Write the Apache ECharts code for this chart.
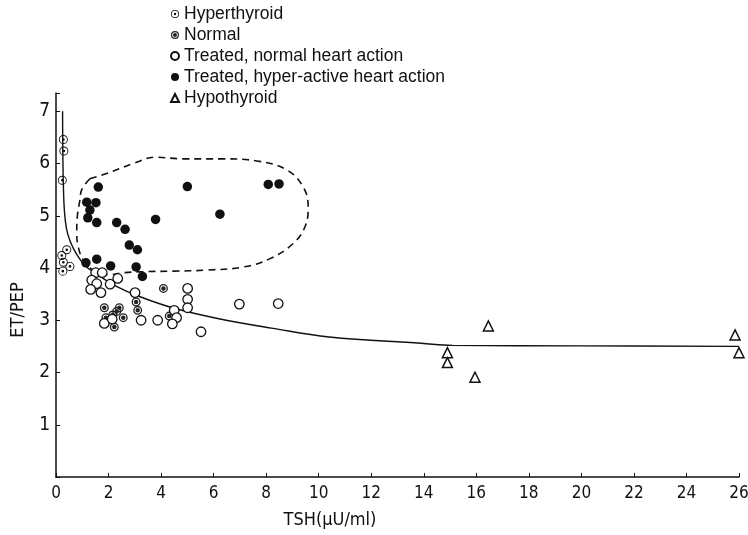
<!DOCTYPE html>
<html>
<head>
<meta charset="utf-8">
<script src="https://cdn.jsdelivr.net/npm/echarts@6/dist/echarts.min.js"></script>
<style>
  html, body { margin: 0; padding: 0; background: #fff; }
  #container { width: 748px; height: 535px; }
</style>
</head>
<body>
<div id="container"></div>
<script>
// 数据 (TSH, ET/PEP)
let seriesNames = ['Hyperthyroid', 'Normal', 'Treated, normal heart action', 'Treated, hyper-active heart action', 'Hypothyroid'];

let hyperData = [
    [0.28, 6.46], [0.3, 6.24], [0.24, 5.68],
    [0.41, 4.35], [0.22, 4.24], [0.28, 4.11], [0.53, 4.03], [0.26, 3.94]
];
let normalData = [
    [1.84, 3.24], [1.9, 3.05], [2.22, 2.87], [2.31, 3.17], [2.41, 3.24],
    [2.56, 3.05], [2.16, 3.1], [3.05, 3.35], [3.11, 3.19], [4.09, 3.61], [4.31, 3.08]
];
let treatedNormalData = [
    [1.51, 3.91], [1.76, 3.91], [1.36, 3.77], [1.55, 3.7], [2.06, 3.69], [2.35, 3.8],
    [1.32, 3.59], [1.71, 3.53], [3.01, 3.53], [5.01, 3.61], [5.01, 3.4], [5.01, 3.24],
    [4.5, 3.19], [4.59, 3.05], [4.43, 2.93], [3.24, 3.0], [3.87, 3.0], [5.52, 2.78],
    [1.84, 2.94], [2.14, 3.02], [6.98, 3.31], [8.46, 3.32]
];
let treatedHyperData = [
    [1.61, 5.55], [1.17, 5.26], [1.52, 5.25], [1.29, 5.11], [1.21, 4.96], [1.55, 4.87],
    [2.31, 4.87], [2.63, 4.74], [2.79, 4.44], [3.1, 4.35], [3.79, 4.93], [5.0, 5.56],
    [6.24, 5.03], [8.08, 5.6], [8.49, 5.61], [1.55, 4.17], [1.14, 4.1], [2.08, 4.04],
    [3.05, 4.02], [3.29, 3.84]
];
let hypoData = [
    [16.46, 2.89], [14.9, 2.38], [14.9, 2.19], [15.95, 1.91], [25.85, 2.72], [26.0, 2.38]
];
// 回归曲线
let curveData = [
    [0.25, 7.0], [0.26, 6.2], [0.28, 5.6], [0.32, 5.1], [0.4, 4.75], [0.55, 4.5],
    [0.8, 4.25], [1.1, 4.05], [1.5, 3.9], [2.3, 3.65], [3.2, 3.45], [4.5, 3.23],
    [6.2, 3.03], [8.2, 2.85], [10.4, 2.68], [13.9, 2.56], [15.1, 2.52], [20, 2.51], [26, 2.5]
];
// 虚线范围
let envelopeData = [
    [1.29, 5.71], [1.93, 5.81], [2.94, 6.0], [3.77, 6.12], [4.85, 6.09], [6.37, 6.09],
    [7.64, 6.05], [8.78, 5.88], [9.41, 5.55], [9.6, 5.17], [9.48, 4.79], [9.03, 4.47],
    [8.15, 4.18], [7.13, 4.02], [5.74, 3.96], [4.47, 3.94], [3.32, 3.93], [2.56, 3.91],
    [2.0, 3.87], [1.42, 3.96], [1.04, 4.15], [0.85, 4.4], [0.79, 4.67], [0.81, 4.98],
    [0.91, 5.3], [0.98, 5.5], [1.29, 5.71]
];

let font = 'Liberation Sans Narrow, DejaVu Sans Condensed, Arial, sans-serif';

let hyperSymbol = 'path://M0,10A10,10 0 1,1 20,10A10,10 0 1,1 0,10ZM2,10A8,8 0 1,0 18,10A8,8 0 1,0 2,10ZM7,10A3,3 0 1,1 13,10A3,3 0 1,1 7,10Z';
let normalSymbol = 'path://M0,10A10,10 0 1,1 20,10A10,10 0 1,1 0,10ZM3,10A7,7 0 1,0 17,10A7,7 0 1,0 3,10ZM5,10A5,5 0 1,1 15,10A5,5 0 1,1 5,10Z';

let dom = document.getElementById('container');
let myChart = echarts.init(dom);

let option = {
    animation: false,
    textStyle: {
        fontFamily: font,
        color: '#111'
    },
    grid: {
        left: 56,
        right: 9,
        top: 93,
        bottom: 58,
        containLabel: false,
        outerBoundsMode: 'none'
    },
    legend: {
        orient: 'vertical',
        left: 165,
        top: 0,
        itemWidth: 8,
        itemHeight: 8,
        itemGap: 3,
        data: seriesNames,
        textStyle: {
            fontFamily: 'Liberation Sans, Arial, sans-serif',
            fontSize: 17.5,
            lineHeight: 18,
            color: '#111'
        }
    },
    graphic: [
        {
            type: 'text',
            x: 18,
            y: 310,
            rotation: Math.PI / 2,
            style: {
                text: 'ET/PEP',
                fontFamily: font,
                fontSize: 18,
                fill: '#111',
                align: 'center',
                verticalAlign: 'middle'
            }
        },
        {
            type: 'text',
            x: 330,
            y: 520,
            style: {
                text: 'TSH(\u03bcU/ml)',
                fontFamily: font,
                fontSize: 18,
                fill: '#111',
                align: 'center',
                verticalAlign: 'middle'
            }
        }
    ],
    xAxis: {
        type: 'value',
        min: 0,
        max: 26,
        interval: 2,
        axisLine: { lineStyle: { color: '#111', width: 1.5 } },
        axisTick: { inside: true, length: 4, lineStyle: { color: '#111' } },
        axisLabel: { fontSize: 17, color: '#111', margin: 8, fontFamily: font },
        splitLine: { show: false }
    },
    yAxis: {
        type: 'value',
        min: 0,
        max: 7.35,
        interval: 1,
        axisLine: { show: true, lineStyle: { color: '#111', width: 1.5 } },
        axisTick: { show: true, inside: true, length: 4, lineStyle: { color: '#111' } },
        axisLabel: {
            fontSize: 19,
            color: '#111',
            margin: 6,
            fontFamily: font,
            formatter: function (v) {
                return (Number.isInteger(v) && v > 0) ? String(v) : '';
            }
        },
        splitLine: { show: false }
    },
    series: [
        {
            name: 'curve',
            type: 'line',
            data: curveData,
            smooth: 0.4,
            symbol: 'none',
            z: 1,
            lineStyle: { color: '#111', width: 1.4 }
        },
        {
            name: 'envelope',
            type: 'line',
            data: envelopeData,
            smooth: 0.4,
            symbol: 'none',
            z: 1,
            lineStyle: { color: '#111', width: 1.6, type: [7, 5] }
        },
        {
            name: seriesNames[0],
            type: 'scatter',
            data: hyperData,
            symbol: hyperSymbol,
            symbolSize: 9,
            z: 3,
            itemStyle: { color: '#111', opacity: 1 }
        },
        {
            name: seriesNames[1],
            type: 'scatter',
            data: normalData,
            symbol: normalSymbol,
            symbolSize: 9,
            z: 3,
            itemStyle: { color: '#222', opacity: 1 }
        },
        {
            name: seriesNames[2],
            type: 'scatter',
            data: treatedNormalData,
            symbol: 'circle',
            symbolSize: 9.5,
            z: 3,
            itemStyle: { color: '#fff', borderColor: '#111', borderWidth: 1.3, opacity: 1 }
        },
        {
            name: seriesNames[3],
            type: 'scatter',
            data: treatedHyperData,
            symbol: 'circle',
            symbolSize: 9.5,
            z: 3,
            itemStyle: { color: '#111', opacity: 1 }
        },
        {
            name: seriesNames[4],
            type: 'scatter',
            data: hypoData,
            symbol: 'triangle',
            symbolSize: 10,
            z: 3,
            itemStyle: { color: '#fff', borderColor: '#111', borderWidth: 1.5, opacity: 1 }
        }
    ]
};
if (option && typeof option === "object") {
    myChart.setOption(option, true);
}
window.onresize = function () {
    myChart.resize();
}
</script>
</body>
</html>
